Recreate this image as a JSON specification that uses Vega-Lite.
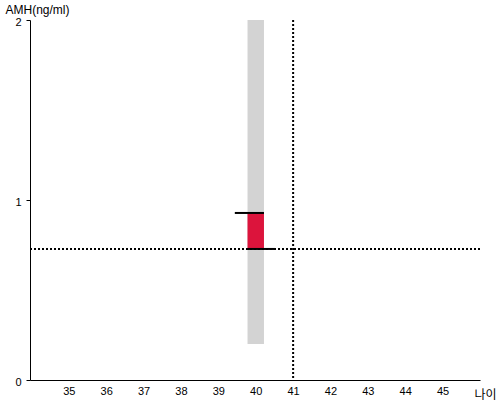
{
  "$schema": "https://vega.github.io/schema/vega-lite/v6.json",
  "width": 450,
  "height": 360,
  "autosize": "none",
  "padding": {"left": 30, "top": 20, "right": 20, "bottom": 20},
  "config": {"view": {"stroke": null}, "font": "Liberation Sans"},
  "datasets": {
    "band": [{"x1": 39.78, "x2": 40.22, "y1": 0.2, "y2": 2}],
    "box": [{"x1": 39.78, "x2": 40.22, "y1": 0.728, "y2": 0.928}],
    "segs": [
      {"x1": 39.44, "x2": 40.22, "y": 0.928},
      {"x1": 39.78, "x2": 40.52, "y": 0.728}
    ],
    "hline": [{"y": 0.728}],
    "vline": [{"x": 41}]
  },
  "layer": [
    {
      "data": {"name": "band"},
      "mark": {"type": "rect", "color": "#d3d3d3"},
      "encoding": {
        "x": {"field": "x1", "type": "quantitative",
          "scale": {"domain": [33.96, 46], "nice": false, "zero": false},
          "axis": {"title": "나이", "values": [35, 36, 37, 38, 39, 40, 41, 42, 43, 44, 45], "format": "d", "ticks": false, "grid": false,
            "domainColor": "black", "labelColor": "black", "labelFontSize": 11, "labelPadding": 5,
            "titleFont": "Noto Sans CJK KR", "titleFontSize": 12, "titleFontWeight": "normal", "titleColor": "black",
            "titleAlign": "left", "titleBaseline": "middle", "titleX": 444, "titleY": 14}},
        "x2": {"field": "x2"},
        "y": {"field": "y1", "type": "quantitative",
          "scale": {"domain": [0, 2], "nice": false},
          "axis": {"title": "AMH(ng/ml)", "values": [0, 1, 2], "labelExpr": "format(datum.value, 'd')", "labelOverlap": false, "labelOffset": 2, "grid": false, "tickSize": 4, "tickColor": "black",
            "domainColor": "black", "labelColor": "black", "labelFontSize": 11, "labelPadding": 5,
            "titleFontSize": 12, "titleFontWeight": "normal", "titleColor": "black", "titleAngle": 0,
            "titleAlign": "left", "titleBaseline": "middle", "titleX": -25, "titleY": -11}},
        "y2": {"field": "y2"}
      }
    },
    {
      "data": {"name": "box"},
      "mark": {"type": "rect", "color": "#dc143c"},
      "encoding": {
        "x": {"field": "x1", "type": "quantitative"},
        "x2": {"field": "x2"},
        "y": {"field": "y1", "type": "quantitative"},
        "y2": {"field": "y2"}
      }
    },
    {
      "data": {"name": "hline"},
      "mark": {"type": "rule", "color": "black", "strokeWidth": 2, "strokeDash": [2, 2]},
      "encoding": {"y": {"field": "y", "type": "quantitative"}}
    },
    {
      "data": {"name": "vline"},
      "mark": {"type": "rule", "color": "black", "strokeWidth": 2, "strokeDash": [2, 2]},
      "encoding": {"x": {"field": "x", "type": "quantitative"}}
    },
    {
      "data": {"name": "segs"},
      "mark": {"type": "rule", "color": "black", "strokeWidth": 2},
      "encoding": {
        "x": {"field": "x1", "type": "quantitative"},
        "x2": {"field": "x2"},
        "y": {"field": "y", "type": "quantitative"}
      }
    }
  ]
}
